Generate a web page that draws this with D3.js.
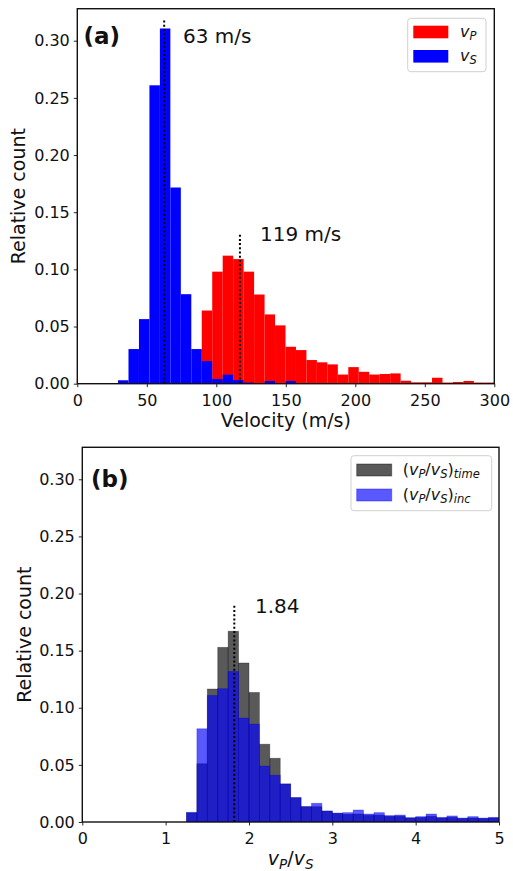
<!DOCTYPE html>
<html><head><meta charset="utf-8">
<script src="https://cdn.jsdelivr.net/npm/d3@7"></script>
<style>
body{margin:0;background:#fff}
svg text{font-family:"DejaVu Sans",sans-serif;fill:#111}
</style></head>
<body><svg id="chart" width="513" height="871"></svg>
<script>
// ---------- data ----------
// panel (a): common velocity bins (m/s)
const velBinStart = 29.3;
const velBinWidth = 7.53;
const vsCounts = [0.003,0.0303,0.0565,0.261,0.3107,0.1716,0.0783,0.0303,0.0198,0.0041,0.0079,0.0032,0.001,0,0.0024,0,0.0024];
const vpFirstBin = 8;
const vpCounts = [0.064,0.098,0.112,0.109,0.098,0.078,0.0606,0.051,0.0323,0.0294,0.0207,0.0187,0.0169,0.008,0.0145,0.0104,0.008,0.0085,0.009,0.0026,0.0012,0.0012,0.0052,0.001,0.0015,0.0024,0.001,0.001];
const vsMedian = 62.5, vsLabel = "63 m/s";
const vpMedian = 117, vpLabel = "119 m/s";
const velTicks = [0,50,100,150,200,250,300];
// panel (b): vP/vS ratio bins
const ratioBinStart = 1.25;
const ratioBinWidth = 0.125;
const ratioTime = [0.008,0.051,0.1164,0.1529,0.167,0.1392,0.1134,0.0681,0.0558,0.0333,0.0213,0.0134,0.0134,0.0096,0.0076,0.0067,0.007,0.0058,0.006,0.005,0.005,0.0035,0.004,0.005,0.0035,0.004,0.003,0.0035,0.003,0.0035];
const ratioInc = [0.0085,0.0816,0.1108,0.1167,0.1318,0.091,0.0857,0.049,0.041,0.0333,0.0213,0.0134,0.0164,0.0096,0.0078,0.0082,0.0105,0.007,0.0082,0.0056,0.0061,0.0038,0.0047,0.007,0.0041,0.0053,0.0035,0.0047,0.0035,0.0041];
const ratioMedian = 1.824, ratioLabel = "1.84";
const ratioTicks = [0,1,2,3,4,5];
const countTicks = [0,0.05,0.10,0.15,0.20,0.25,0.30];

// ---------- drawing ----------
const svg = d3.select("#chart");
const fmt = d3.format(".2f");

function panel(o){
  const g = svg.append("g");
  const x = d3.scaleLinear().domain(o.xDomain).range([o.left,o.right]);
  const y = d3.scaleLinear().domain([0,0.328]).range([o.bottom,o.top]);
  const cid = "clip"+o.id;
  svg.append("clipPath").attr("id",cid).append("rect")
    .attr("x",o.left).attr("y",o.top).attr("width",o.right-o.left).attr("height",o.bottom-o.top);
  const plot = g.append("g").attr("clip-path",`url(#${cid})`);
  // axes
  const ax = g.append("g").attr("transform",`translate(0,${o.bottom})`)
    .call(d3.axisBottom(x).tickValues(o.xTicks).tickSize(3.5).tickPadding(4).tickFormat(d3.format("d")));
  const ay = g.append("g").attr("transform",`translate(${o.left},0)`)
    .call(d3.axisLeft(y).tickValues(countTicks).tickSize(3.5).tickPadding(4).tickFormat(fmt));
  [ax,ay].forEach(a=>{
    a.select(".domain").remove();
    a.selectAll(".tick line").attr("stroke","#111").attr("stroke-width",0.9);
    a.selectAll(".tick text").attr("font-size",16).attr("font-family","DejaVu Sans").attr("fill","#1a1a1a");
  });
  ax.selectAll(".tick text").attr("dy","0.9em");
  return {g,plot,x,y};
}

function frame(p,o){
  p.g.append("rect").attr("x",o.left).attr("y",o.top).attr("width",o.right-o.left).attr("height",o.bottom-o.top)
    .attr("fill","none").attr("stroke","#111").attr("stroke-width",1.4);
}

function bars(p, start, width, counts, offset, attrs){
  const data = counts.map((c,i)=>({x0:start+(i+offset)*width, x1:start+(i+offset+1)*width, c})).filter(d=>d.c>0);
  const sel = p.plot.selectAll(null).data(data).enter().append("rect")
    .attr("x",d=>p.x(d.x0)).attr("width",d=>p.x(d.x1)-p.x(d.x0))
    .attr("y",d=>p.y(d.c)).attr("height",d=>p.y(0)-p.y(d.c));
  Object.entries(attrs).forEach(([k,v])=>sel.attr(k,v));
}

function vline(p, xv, ytop){
  p.g.append("line").attr("x1",p.x(xv)).attr("x2",p.x(xv)).attr("y1",p.y(0)).attr("y2",p.y(ytop))
    .attr("stroke","#000").attr("stroke-width",2).attr("stroke-dasharray","2,2.2");
}

// ----- panel (a) -----
const oa = {id:"a", left:77.3, right:494.3, top:8.7, bottom:383.7, xDomain:[0,300], xTicks:velTicks};
const pa = panel(oa);
bars(pa, velBinStart, velBinWidth, vpCounts, vpFirstBin, {fill:"#ff0000"});
bars(pa, velBinStart, velBinWidth, vsCounts, 0, {fill:"#0000ff"});
vline(pa, vsMedian, 0.319);
vline(pa, vpMedian, 0.131);
frame(pa, oa);
pa.g.append("text").attr("x",pa.x(76)).attr("y",pa.y(0.2984)).attr("font-size",20).text(vsLabel);
pa.g.append("text").attr("x",pa.x(131.5)).attr("y",pa.y(0.1248)).attr("font-size",20).text(vpLabel);
pa.g.append("text").attr("x",83.5).attr("y",44).attr("font-size",23).attr("font-weight","bold").text("(a)");
pa.g.append("text").attr("x",(oa.left+oa.right)/2).attr("y",426.7).attr("text-anchor","middle").attr("font-size",19).text("Velocity (m/s)");
pa.g.append("text").attr("transform",`translate(24.5,${(oa.top+oa.bottom)/2}) rotate(-90)`).attr("text-anchor","middle").attr("font-size",19).text("Relative count");

// legend (a)
const la = pa.g.append("g");
la.append("rect").attr("x",407.7).attr("y",18.3).attr("width",78.3).attr("height",53.4).attr("rx",3)
  .attr("fill","#fff").attr("fill-opacity",0.8).attr("stroke","#d0d0d0").attr("stroke-width",1);
const legA = [{c:"#ff0000",s:"P",y:25.7},{c:"#0000ff",s:"S",y:50}];
legA.forEach(d=>{
  la.append("rect").attr("x",413.3).attr("y",d.y).attr("width",35).attr("height",12.6).attr("fill",d.c);
  const t = la.append("text").attr("x",460).attr("y",d.y+11).attr("font-size",16).attr("font-style","italic");
  t.append("tspan").text("v");
  t.append("tspan").attr("font-size",11.5).attr("dy",3).text(d.s);
});

// ----- panel (b) -----
const ob = {id:"b", left:82.3, right:499, top:447.3, bottom:822, xDomain:[0,5], xTicks:ratioTicks};
const pb = panel(ob);
bars(pb, ratioBinStart, ratioBinWidth, ratioTime, 0, {fill:"#000","fill-opacity":0.65,stroke:"#000","stroke-opacity":0.35,"stroke-width":0.8});
bars(pb, ratioBinStart, ratioBinWidth, ratioInc, 0, {fill:"#0000ff","fill-opacity":0.65,stroke:"#0000cc","stroke-opacity":0.35,"stroke-width":0.8});
vline(pb, ratioMedian, 0.19);
frame(pb, ob);
pb.g.append("text").attr("x",pb.x(2.072)).attr("y",pb.y(0.1831)).attr("font-size",20).text(ratioLabel);
pb.g.append("text").attr("x",91).attr("y",487).attr("font-size",23).attr("font-weight","bold").text("(b)");
pb.g.append("text").attr("transform",`translate(30.5,${(ob.top+ob.bottom)/2}) rotate(-90)`).attr("text-anchor","middle").attr("font-size",19).text("Relative count");
{
  const t = pb.g.append("text").attr("x",(ob.left+ob.right)/2).attr("y",865).attr("text-anchor","middle").attr("font-size",19);
  t.append("tspan").attr("font-style","italic").text("v");
  t.append("tspan").attr("font-style","italic").attr("font-size",13.5).attr("dy",3.5).text("P");
  t.append("tspan").attr("dy",-3.5).text("/");
  t.append("tspan").attr("font-style","italic").text("v");
  t.append("tspan").attr("font-style","italic").attr("font-size",13.5).attr("dy",3.5).text("S");
}
// legend (b)
const lb = pb.g.append("g");
lb.append("rect").attr("x",351).attr("y",455.7).attr("width",140.7).attr("height",55).attr("rx",3)
  .attr("fill","#fff").attr("fill-opacity",0.8).attr("stroke","#d0d0d0").attr("stroke-width",1);
const legB = [{c:"#000",o:0.65,sub:"time",y:464},{c:"#0000ff",o:0.65,sub:"inc",y:489}];
legB.forEach(d=>{
  lb.append("rect").attr("x",356.7).attr("y",d.y).attr("width",35).attr("height",12).attr("fill",d.c).attr("fill-opacity",d.o)
    .attr("stroke",d.c).attr("stroke-opacity",0.4);
  const t = lb.append("text").attr("x",402.7).attr("y",d.y+11).attr("font-size",16);
  t.append("tspan").text("(");
  t.append("tspan").attr("font-style","italic").text("v");
  t.append("tspan").attr("font-style","italic").attr("font-size",11.5).attr("dy",3).text("P");
  t.append("tspan").attr("dy",-3).text("/");
  t.append("tspan").attr("font-style","italic").text("v");
  t.append("tspan").attr("font-style","italic").attr("font-size",11.5).attr("dy",3).text("S");
  t.append("tspan").attr("dy",-3).text(")");
  t.append("tspan").attr("font-style","italic").attr("font-size",11.5).attr("dy",3).text(d.sub);
});
</script></body></html>
